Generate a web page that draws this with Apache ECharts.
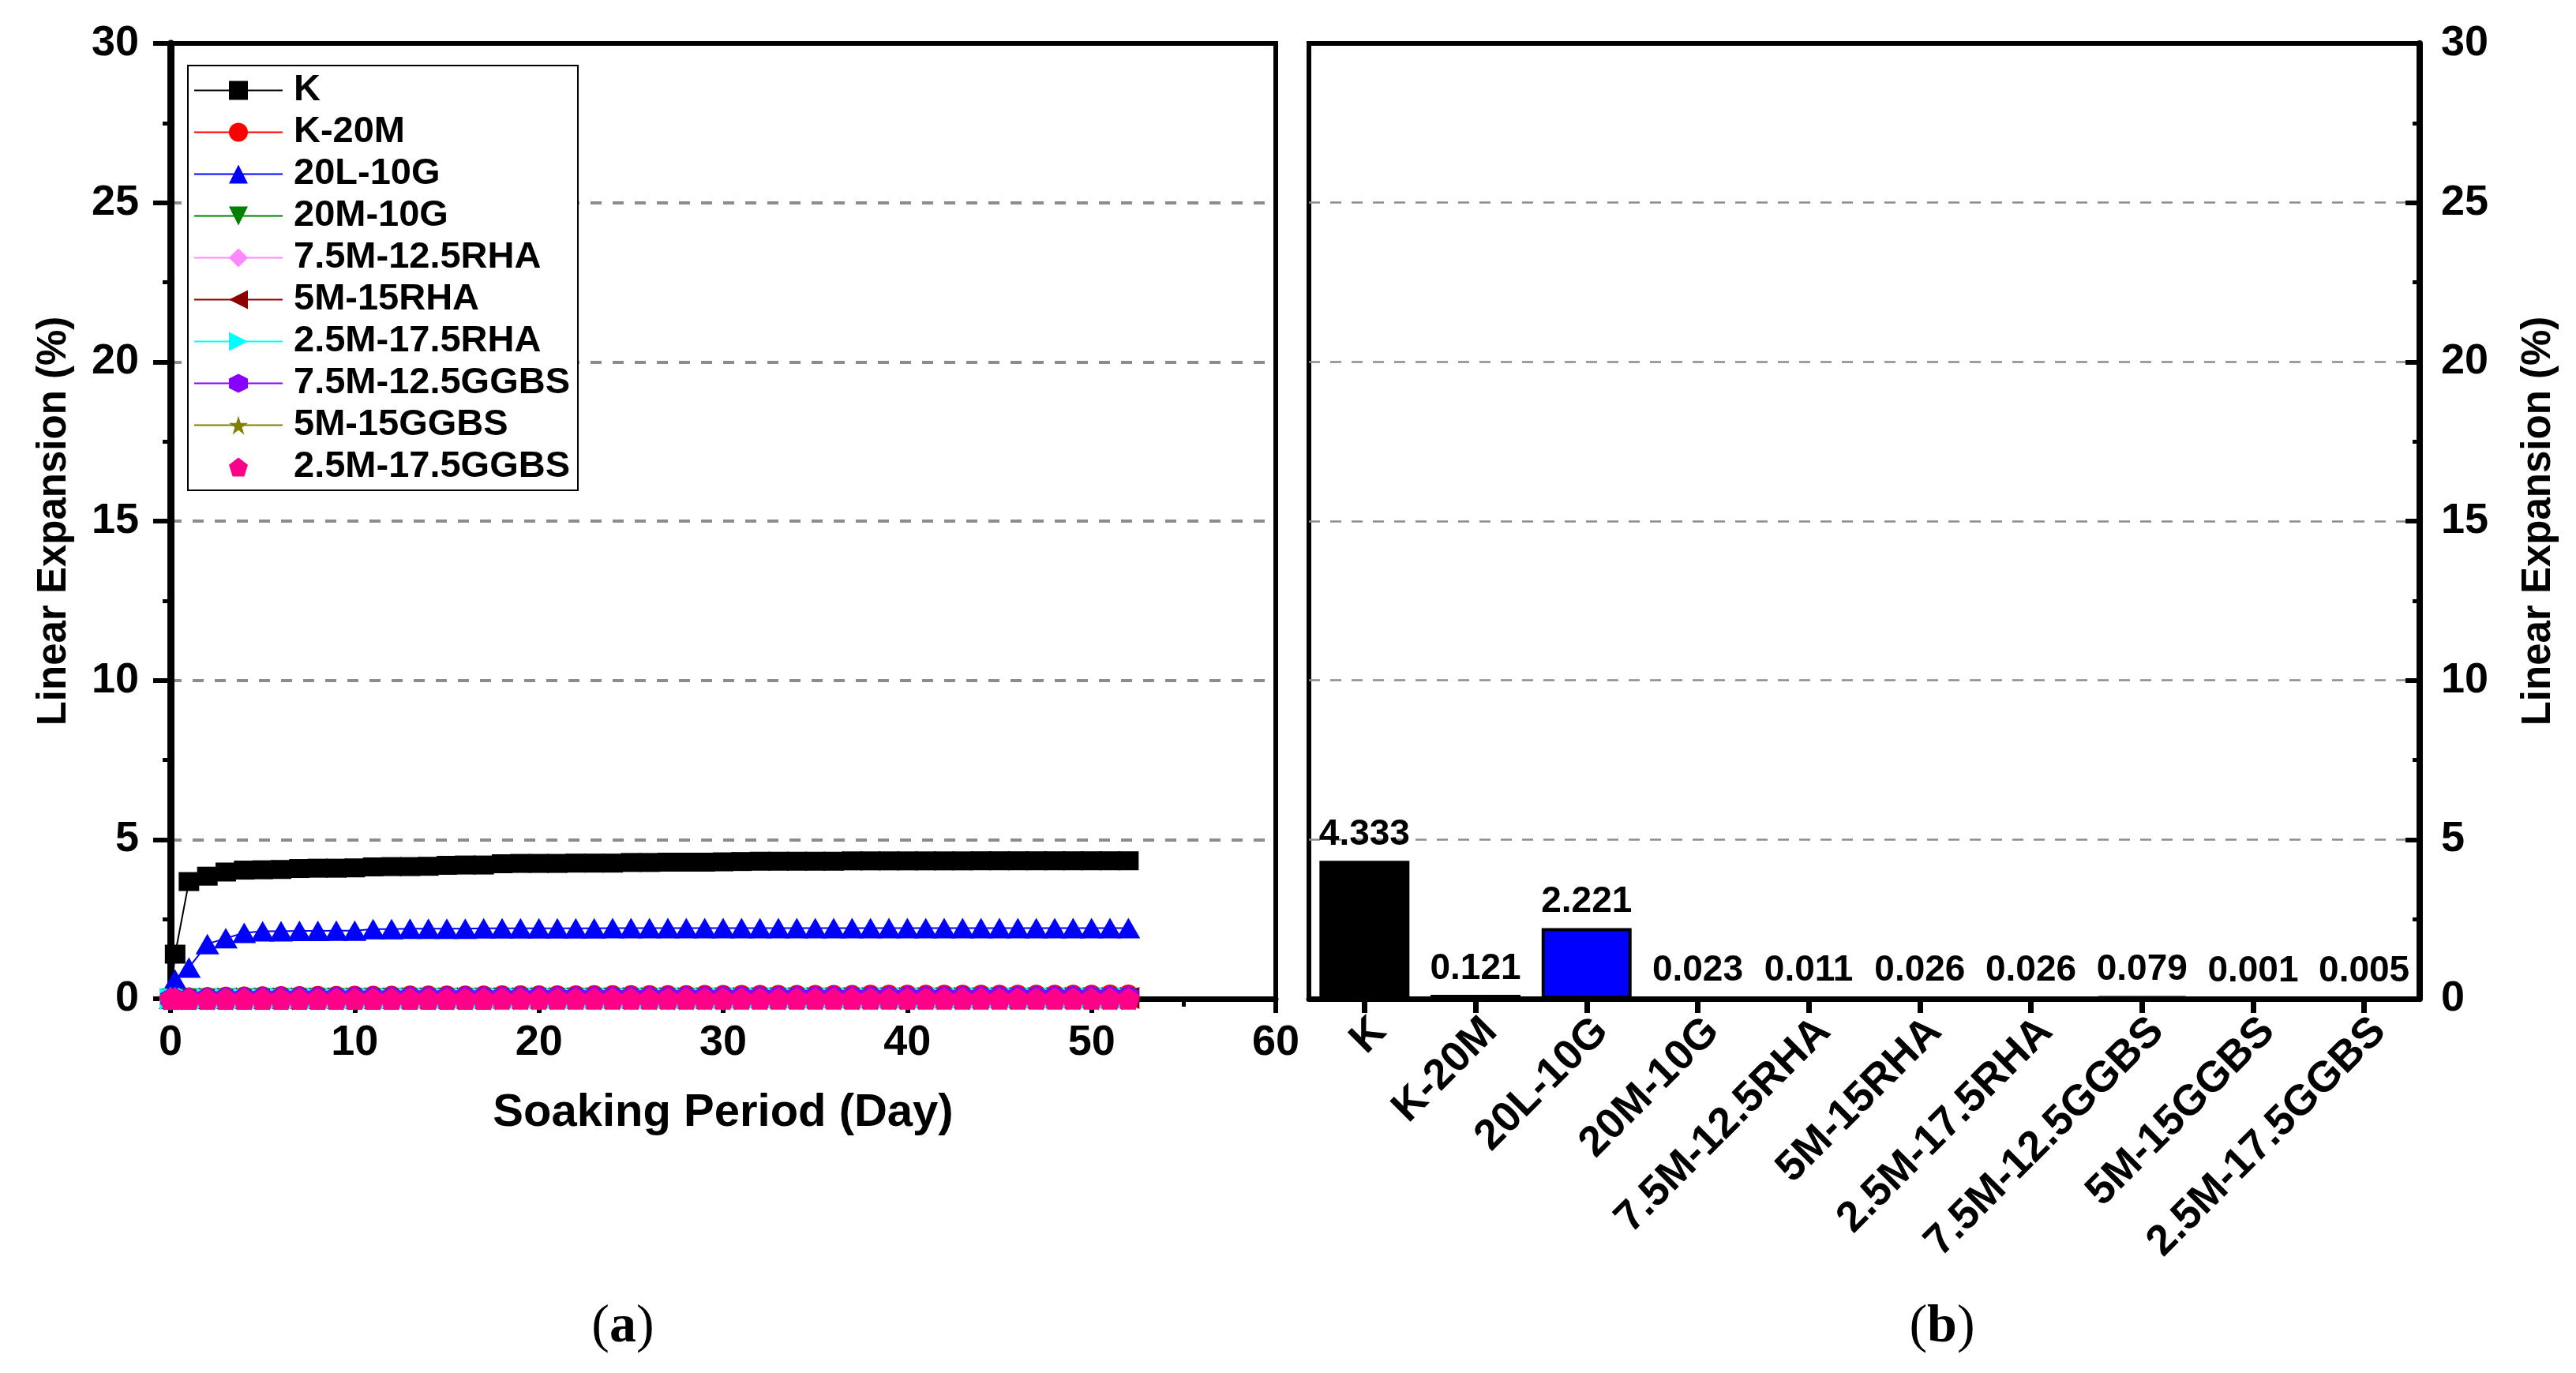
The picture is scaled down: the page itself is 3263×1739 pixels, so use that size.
<!DOCTYPE html>
<html>
<head>
<meta charset="utf-8">
<script src="https://cdn.jsdelivr.net/npm/echarts@6/dist/echarts.min.js"></script>
<style>
html,body{margin:0;padding:0;background:#fff;}
#c{width:3263px;height:1739px;}
</style>
</head>
<body>
<div id="c"></div>
<script>
// ---------- DATA ----------
const days = [0, 0.25, 1, 2, 3, 4, 5, 6, 7, 8,
  9, 10, 11, 12, 13, 14, 15, 16, 17, 18,
  19, 20, 21, 22, 23, 24, 25, 26, 27, 28,
  29, 30, 31, 32, 33, 34, 35, 36, 37, 38,
  39, 40, 41, 42, 43, 44, 45, 46, 47, 48,
  49, 50, 51, 52];

const seriesNames = ['K', 'K-20M', '20L-10G', '20M-10G', '7.5M-12.5RHA', '5M-15RHA',
  '2.5M-17.5RHA', '7.5M-12.5GGBS', '5M-15GGBS', '2.5M-17.5GGBS'];

const valK = [0, 1.40, 3.68, 3.85, 3.98, 4.04, 4.05, 4.06, 4.09, 4.10,
  4.10, 4.11, 4.14, 4.15, 4.15, 4.16, 4.19, 4.20, 4.20, 4.24,
  4.25, 4.25, 4.25, 4.26, 4.26, 4.26, 4.28, 4.28, 4.29, 4.29,
  4.29, 4.30, 4.31, 4.32, 4.32, 4.32, 4.32, 4.32, 4.33, 4.33,
  4.33, 4.33, 4.33, 4.33, 4.33, 4.333, 4.333, 4.333, 4.333, 4.333,
  4.333, 4.333, 4.333, 4.333];

const valK20M = [0, 0.010, 0.030, 0.045, 0.055, 0.062, 0.068, 0.072, 0.076, 0.079,
  0.082, 0.084, 0.086, 0.088, 0.090, 0.092, 0.093, 0.095, 0.096, 0.098,
  0.099, 0.100, 0.101, 0.102, 0.103, 0.104, 0.105, 0.106, 0.107, 0.108,
  0.109, 0.110, 0.110, 0.111, 0.112, 0.112, 0.113, 0.114, 0.114, 0.115,
  0.115, 0.116, 0.116, 0.117, 0.117, 0.118, 0.118, 0.119, 0.119, 0.120,
  0.120, 0.120, 0.121, 0.121];

const val20L10G = [0, 0.60, 0.98, 1.72, 1.90, 2.07, 2.12, 2.12, 2.13, 2.13,
  2.14, 2.14, 2.19, 2.19, 2.20, 2.20, 2.20, 2.20, 2.21, 2.21,
  2.21, 2.21, 2.21, 2.21, 2.21, 2.22, 2.22, 2.22, 2.22, 2.22,
  2.22, 2.22, 2.22, 2.22, 2.22, 2.22, 2.22, 2.22, 2.22, 2.22,
  2.22, 2.22, 2.22, 2.22, 2.22, 2.221, 2.221, 2.221, 2.221, 2.221,
  2.221, 2.221, 2.221, 2.221];

const val20M10G = [0, 0.002, 0.005, 0.007, 0.008, 0.009, 0.010, 0.011, 0.011, 0.012,
  0.012, 0.013, 0.013, 0.014, 0.014, 0.014, 0.015, 0.015, 0.015, 0.016,
  0.016, 0.016, 0.017, 0.017, 0.017, 0.017, 0.018, 0.018, 0.018, 0.018,
  0.019, 0.019, 0.019, 0.019, 0.020, 0.020, 0.020, 0.020, 0.020, 0.021,
  0.021, 0.021, 0.021, 0.021, 0.022, 0.022, 0.022, 0.022, 0.022, 0.022,
  0.023, 0.023, 0.023, 0.023];

const val75RHA = [0, 0.001, 0.002, 0.003, 0.003, 0.004, 0.004, 0.005, 0.005, 0.005,
  0.006, 0.006, 0.006, 0.006, 0.007, 0.007, 0.007, 0.007, 0.007, 0.008,
  0.008, 0.008, 0.008, 0.008, 0.008, 0.009, 0.009, 0.009, 0.009, 0.009,
  0.009, 0.009, 0.010, 0.010, 0.010, 0.010, 0.010, 0.010, 0.010, 0.010,
  0.010, 0.011, 0.011, 0.011, 0.011, 0.011, 0.011, 0.011, 0.011, 0.011,
  0.011, 0.011, 0.011, 0.011];

const val5RHA = [0, 0.003, 0.006, 0.008, 0.010, 0.011, 0.012, 0.013, 0.013, 0.014,
  0.014, 0.015, 0.015, 0.016, 0.016, 0.017, 0.017, 0.017, 0.018, 0.018,
  0.018, 0.019, 0.019, 0.019, 0.020, 0.020, 0.020, 0.021, 0.021, 0.021,
  0.021, 0.022, 0.022, 0.022, 0.022, 0.023, 0.023, 0.023, 0.023, 0.024,
  0.024, 0.024, 0.024, 0.024, 0.025, 0.025, 0.025, 0.025, 0.025, 0.025,
  0.026, 0.026, 0.026, 0.026];

const val25RHA = [0, 0.002, 0.005, 0.007, 0.009, 0.010, 0.011, 0.012, 0.013, 0.013,
  0.014, 0.014, 0.015, 0.015, 0.016, 0.016, 0.016, 0.017, 0.017, 0.018,
  0.018, 0.018, 0.019, 0.019, 0.019, 0.020, 0.020, 0.020, 0.021, 0.021,
  0.021, 0.022, 0.022, 0.022, 0.022, 0.023, 0.023, 0.023, 0.023, 0.024,
  0.024, 0.024, 0.024, 0.025, 0.025, 0.025, 0.025, 0.025, 0.025, 0.026,
  0.026, 0.026, 0.026, 0.026];

const val75GGBS = [0, 0.008, 0.020, 0.030, 0.036, 0.040, 0.044, 0.047, 0.049, 0.051,
  0.053, 0.055, 0.056, 0.058, 0.059, 0.060, 0.061, 0.062, 0.063, 0.064,
  0.065, 0.066, 0.066, 0.067, 0.068, 0.068, 0.069, 0.070, 0.070, 0.071,
  0.071, 0.072, 0.072, 0.073, 0.073, 0.074, 0.074, 0.074, 0.075, 0.075,
  0.076, 0.076, 0.076, 0.077, 0.077, 0.077, 0.078, 0.078, 0.078, 0.078,
  0.079, 0.079, 0.079, 0.079];

const val5GGBS = [0, 0, 0, 0, 0, 0, 0, 0, 0, 0,
  0, 0, 0, 0, 0, 0, 0, 0, 0, 0,
  0, 0, 0, 0, 0, 0, 0, 0, 0, 0,
  0.001, 0.001, 0.001, 0.001, 0.001, 0.001, 0.001, 0.001, 0.001, 0.001,
  0.001, 0.001, 0.001, 0.001, 0.001, 0.001, 0.001, 0.001, 0.001, 0.001,
  0.001, 0.001, 0.001, 0.001];

const val25GGBS = [0, 0, 0.001, 0.001, 0.001, 0.002, 0.002, 0.002, 0.002, 0.002,
  0.003, 0.003, 0.003, 0.003, 0.003, 0.003, 0.003, 0.003, 0.003, 0.004,
  0.004, 0.004, 0.004, 0.004, 0.004, 0.004, 0.004, 0.004, 0.004, 0.004,
  0.004, 0.004, 0.004, 0.004, 0.005, 0.005, 0.005, 0.005, 0.005, 0.005,
  0.005, 0.005, 0.005, 0.005, 0.005, 0.005, 0.005, 0.005, 0.005, 0.005,
  0.005, 0.005, 0.005, 0.005];

const lineValues = [valK, valK20M, val20L10G, val20M10G, val75RHA, val5RHA,
  val25RHA, val75GGBS, val5GGBS, val25GGBS];

// bar chart (b)
const barCategories = ['K', 'K-20M', '20L-10G', '20M-10G', '7.5M-12.5RHA', '5M-15RHA',
  '2.5M-17.5RHA', '7.5M-12.5GGBS', '5M-15GGBS', '2.5M-17.5GGBS'];
const barValues = [4.333, 0.121, 2.221, 0.023, 0.011, 0.026, 0.026, 0.079, 0.001, 0.005];

const yTicks = [0, 5, 10, 15, 20, 25, 30];
const xTicks = [0, 10, 20, 30, 40, 50, 60];

// ---------- STYLE ----------
const colors = ['#000000', '#ff0000', '#0000ff', '#008000', '#ff88ff', '#8b0000',
  '#00ffff', '#8800ff', '#808000', '#ff0088'];
const symbols = [
  'rect', 'circle', 'triangle',
  'path://M0,0 L10,0 L5,10 Z',
  'diamond',
  'path://M10,0 L10,10 L0,5 Z',
  'path://M0,0 L0,10 L10,5 Z',
  'path://M5,0 L9.33,2.5 L9.33,7.5 L5,10 L0.67,7.5 L0.67,2.5 Z',
  'path://M5,0 L6.18,3.62 L10,3.62 L6.91,5.86 L8.09,9.5 L5,7.25 L1.91,9.5 L3.09,5.86 L0,3.62 L3.82,3.62 Z',
  'path://M5,0 L10,3.63 L8.09,9.51 L1.91,9.51 L0,3.63 Z'
];
const symbolSizes = [[26, 24], 26, [30, 26], [28, 26], [26, 30], [28, 28], [28, 28], [26, 28], 30, [30, 28]];
const FONT = '"Liberation Sans", Arial, Helvetica, sans-serif';
const axisText = {fontFamily: FONT, fontWeight: 'bold', fontSize: 54, color: '#000'};

const lineSeries = seriesNames.map((name, i) => ({
  name: name,
  type: 'line',
  xAxisIndex: 0,
  yAxisIndex: 0,
  data: days.map((d, j) => [d, lineValues[i][j]]),
  symbol: symbols[i],
  symbolSize: symbolSizes[i],
  showAllSymbol: true,
  lineStyle: {color: colors[i], width: i === 9 ? 0 : 2, opacity: i === 9 ? 0 : 1},
  itemStyle: {color: colors[i]},
  z: 2 + i,
  animation: false
}));

const barSeries = {
  type: 'bar',
  xAxisIndex: 1,
  yAxisIndex: 1,
  data: barValues.map((v, i) => ({value: v, itemStyle: {color: colors[i]}})),
  barCategoryGap: '19%',
  itemStyle: {borderColor: '#000', borderWidth: 4},
  label: {show: true, position: 'top', distance: 10, fontFamily: FONT, fontWeight: 'bold',
    fontSize: 46, color: '#000'},
  animation: false
};

const chart = echarts.init(document.getElementById('c'), null, {renderer: 'canvas'});
chart.setOption({
  backgroundColor: '#fff',
  animation: false,
  grid: [
    {left: 216, top: 55, width: 1400, height: 1210, show: true, borderColor: '#000', borderWidth: 6, backgroundColor: 'transparent'},
    {left: 1658, top: 55, width: 1407, height: 1210, show: true, borderColor: '#000', borderWidth: 6, backgroundColor: 'transparent'}
  ],
  legend: {
    orient: 'vertical',
    left: 238, top: 83,
    padding: [8, 10, 6, 7],
    itemWidth: 112, itemHeight: 30, itemGap: 6,
    backgroundColor: '#fff',
    borderColor: '#000', borderWidth: 2,
    textStyle: {fontFamily: FONT, fontWeight: 'bold', fontSize: 47, lineHeight: 44, color: '#000', padding: [0, 0, 0, 9]},
    data: seriesNames
  },
  xAxis: [
    {
      type: 'value', gridIndex: 0, min: xTicks[0], max: xTicks[xTicks.length - 1], interval: 10,
      axisLine: {show: true, onZero: false, lineStyle: {color: '#000', width: 7}},
      axisTick: {show: true, length: 18, lineStyle: {color: '#000', width: 6}},
      minorTick: {show: true, splitNumber: 2, length: 10, lineStyle: {color: '#000', width: 5}},
      axisLabel: Object.assign({margin: 29}, axisText),
      splitLine: {show: false},
      name: 'Soaking Period (Day)', nameLocation: 'middle', nameGap: 116,
      nameTextStyle: {fontFamily: FONT, fontWeight: 'bold', fontSize: 58, color: '#000'}
    },
    {
      type: 'category', gridIndex: 1, data: barCategories, boundaryGap: true,
      axisLine: {show: true, lineStyle: {color: '#000', width: 7}},
      axisTick: {show: true, alignWithLabel: true, length: 18, lineStyle: {color: '#000', width: 7}},
      axisLabel: Object.assign({rotate: 45, interval: 0, margin: 14, align: 'right', verticalAlign: 'top'}, axisText),
      splitLine: {show: false}
    }
  ],
  yAxis: [
    {
      type: 'value', gridIndex: 0, min: yTicks[0], max: yTicks[yTicks.length - 1], interval: 5,
      axisLine: {show: true, lineStyle: {color: '#000', width: 9}},
      axisTick: {show: true, length: 22, lineStyle: {color: '#000', width: 6}},
      minorTick: {show: true, splitNumber: 2, length: 10, lineStyle: {color: '#000', width: 5}},
      axisLabel: Object.assign({margin: 40}, axisText),
      splitLine: {show: true, showMinLine: false, showMaxLine: false, lineStyle: {color: '#8c8c8c', width: 4, type: [14, 14]}},
      name: 'Linear Expansion (%)', nameLocation: 'middle', nameRotate: 90, nameGap: 122,
      nameTextStyle: {fontFamily: FONT, fontWeight: 'bold', fontSize: 51, color: '#000'}
    },
    {
      type: 'value', gridIndex: 1, position: 'right', min: yTicks[0], max: yTicks[yTicks.length - 1], interval: 5,
      axisLine: {show: true, lineStyle: {color: '#000', width: 8}},
      axisTick: {show: true, inside: true, length: 18, lineStyle: {color: '#000', width: 6}},
      minorTick: {show: true, splitNumber: 2, length: 9, lineStyle: {color: '#000', width: 5}},
      axisLabel: Object.assign({margin: 27}, axisText),
      splitLine: {show: true, showMinLine: false, showMaxLine: false, lineStyle: {color: '#8c8c8c', width: 2.5, type: [14, 13]}},
      name: 'Linear Expansion (%)', nameLocation: 'middle', nameRotate: 90, nameGap: 125,
      nameTextStyle: {fontFamily: FONT, fontWeight: 'bold', fontSize: 51, color: '#000'}
    }
  ],
  graphic: [
    {type: 'text', x: 789, y: 1681, style: {text: '{p|(}{b|a}{p|)}', align: 'center', verticalAlign: 'middle',
      rich: {p: {fontFamily: '"Liberation Serif", "Times New Roman", serif', fontSize: 68, fill: '#000'},
             b: {fontFamily: '"Liberation Serif", "Times New Roman", serif', fontSize: 68, fontWeight: 'bold', fill: '#000'}}}},
    {type: 'text', x: 2460, y: 1681, style: {text: '{p|(}{b|b}{p|)}', align: 'center', verticalAlign: 'middle',
      rich: {p: {fontFamily: '"Liberation Serif", "Times New Roman", serif', fontSize: 68, fill: '#000'},
             b: {fontFamily: '"Liberation Serif", "Times New Roman", serif', fontSize: 68, fontWeight: 'bold', fill: '#000'}}}}
  ],
  series: lineSeries.concat([barSeries])
});
</script>
</body>
</html>
